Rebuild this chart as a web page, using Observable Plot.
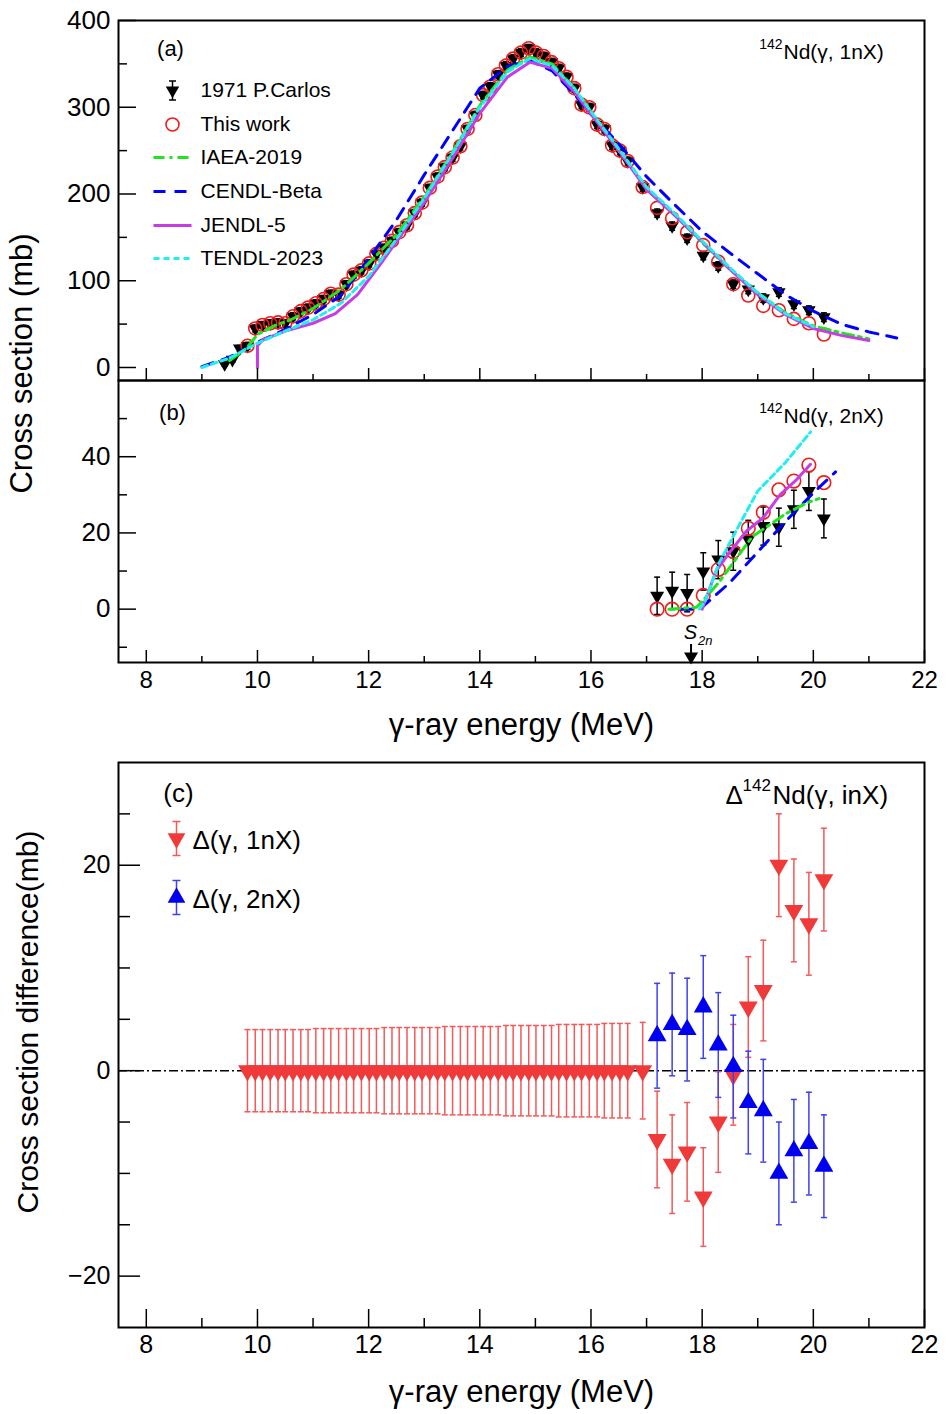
<!DOCTYPE html>
<html><head><meta charset="utf-8">
<script src="https://cdn.jsdelivr.net/npm/d3@7"></script>
<script src="https://cdn.jsdelivr.net/npm/@observablehq/plot@0.6"></script>
<style>
body{margin:0;background:#fff;}
#root{position:relative;width:950px;height:1414px;overflow:hidden;background:#fff;}
.panel{position:absolute;left:0;}
</style></head>
<body><div id="root"><div class="panel" id="pa" style="top:0"></div><div class="panel" id="pb" style="top:380px"></div><div class="panel" id="pc" style="top:740px"></div></div>
<script>
// ---------------- DATA ----------------
const xMajorTicks = [8, 10, 12, 14, 16, 18, 20, 22];
const xMinorTicks = [9, 11, 13, 15, 17, 19, 21];
const yMajorA = [0, 100, 200, 300, 400];
const yMinorA = [50, 150, 250, 350];
const yMajorB = [0, 20, 40];
const yMinorB = [-10, 10, 30, 50];
const yMajorC = [-20, 0, 20];
const yMinorC = [-15, -10, -5, 5, 10, 15, 25];

// (γ,1nX) energies (MeV)
const energy1nMain = [9.82, 9.96, 10.09, 10.23, 10.37, 10.50, 10.64, 10.78, 10.91, 11.05, 11.19, 11.32, 11.46, 11.60, 11.73, 11.87, 12.01, 12.14, 12.28, 12.42, 12.55, 12.69, 12.83, 12.96, 13.10, 13.24, 13.37, 13.51, 13.65, 13.78, 13.92, 14.06, 14.19, 14.33, 14.47, 14.60, 14.74, 14.88, 15.01, 15.15, 15.29, 15.42, 15.56, 15.70, 15.83, 15.97, 16.11, 16.24, 16.38, 16.52, 16.66, 16.93];
const energyHigh = [17.19, 17.46, 17.73, 18.02, 18.29, 18.56, 18.83, 19.10, 19.38, 19.65, 19.92, 20.19];
const thisWork1nMain = [25, 45, 49, 51, 52, 51, 59, 65, 69, 74, 79, 85, 84, 96, 107, 112, 120, 131, 138, 146, 156, 164, 178, 190, 207, 220, 231, 242, 255, 275, 291, 314, 324, 338, 348, 356, 363, 368, 363, 359, 352, 345, 335, 322, 303, 300, 280, 275, 256, 250, 238, 208];
const thisWork1nHigh = [184, 172, 156, 141, 122, 96, 83, 71, 66, 56, 51, 38];
const carlosLowEnergy = [9.41, 9.55, 9.68];
const carlosLow1n = [4, 9, 22];
const carlosLowErr = [2.5, 3, 3.5];
const carlos1nHigh = [178, 163, 149, 129, 117, 96, 90, 80, 87, 73, 66, 58];

// panel (c) differences
const delta1nMain = [0,0,0,0,0,0,0,0,0,0,0,0,0,0,0,0,0,0,0,0,0,0,0,0,0,0,0,0,0,0,0,0,0,0,0,0,0,0,0,0,0,0,0,0,0,0,0,0,0,0,0,0];
const delta1nErrMain = [4.0,4.0,4.0,4.0,4.0,4.0,4.0,4.0,4.0, 4.1,4.1,4.1,4.1,4.1,4.1,4.1,4.1,4.1, 4.2,4.2,4.2,4.2,4.2,4.2,4.2,4.2, 4.3,4.3,4.3,4.3,4.3,4.3,4.3,4.3, 4.4,4.4,4.4,4.4,4.4,4.4,4.4, 4.5,4.5,4.5,4.5,4.5,4.5, 4.6,4.6,4.6,4.6, 4.7];
const delta1nHigh = [-6.7, -9.1, -7.9, -12.3, -5.0, -0.4, 6.2, 7.8, 20.0, 15.6, 14.3, 18.6];
const delta1nErrHigh = [4.7, 4.8, 4.8, 4.8, 4.9, 4.9, 4.9, 4.9, 5.0, 5.0, 5.0, 5.0];
const delta2n = [3.4, 4.5, 4.0, 6.2, 2.5, 0.4, -3.1, -3.9, -10.0, -7.8, -7.1, -9.3];
const delta2nErr = [5.1, 5.0, 5.0, 5.0, 5.1, 5.0, 5.0, 5.0, 5.0, 5.0, 5.0, 5.0];

// panel (b) (γ,2nX)
const thisWork2n = [0, 0, 0, 3.6, 10.4, 15.1, 21.2, 25.4, 31.3, 33.6, 37.8, 33.2];
const carlos2n = [3.5, 4.8, 4.2, 9.9, 13.0, 15.2, 18.3, 21.8, 21.5, 26.2, 31.0, 23.8];
const carlos2nErr = [4.9, 4.9, 4.9, 4.9, 5.0, 5.0, 5.0, 5.0, 5.0, 5.0, 5.1, 5.1];
const s2nEnergy = 17.8;

// evaluated libraries (γ,1nX)
const iaea1nE = [9.5, 9.8, 10.0, 10.3, 10.6, 11.0, 11.5, 12.0, 12.5, 13.0, 13.5, 14.0, 14.5, 14.9, 15.3, 15.7, 16.0, 16.5, 17.0, 17.5, 18.0, 18.5, 19.0, 19.5, 20.0, 20.5, 21.0];
const iaea1nV = [8, 22, 38, 48, 55, 68, 90, 120, 153, 197, 247, 302, 343, 358, 350, 322, 295, 250, 207, 176, 144, 113, 86, 63, 48, 40, 33];
const cendl1nE = [9.0, 9.5, 10.0, 10.5, 11.0, 11.5, 12.0, 12.5, 13.0, 13.5, 14.0, 14.5, 14.9, 15.3, 15.7, 16.0, 16.5, 17.0, 17.5, 18.0, 18.5, 19.0, 19.5, 20.0, 20.5, 21.0, 21.5];
const cendl1nV = [1, 12, 29, 44, 61, 83, 125, 170, 222, 272, 322, 347, 354, 342, 315, 292, 258, 220, 188, 157, 132, 108, 84, 65, 50, 41, 34];
const jendl1nE = [10.0, 10.0, 10.1, 10.5, 11.0, 11.4, 11.8, 12.2, 12.5, 13.0, 13.5, 14.0, 14.5, 14.9, 15.3, 15.7, 16.0, 16.5, 17.0, 17.5, 18.0, 18.5, 19.0, 19.5, 20.0, 20.5, 21.0];
const jendl1nV = [0, 25, 32, 42, 51, 62, 84, 118, 145, 190, 240, 293, 335, 352, 345, 318, 292, 250, 205, 176, 145, 113, 84, 61, 45, 37, 31];
const tendl1nE = [9.0, 9.5, 10.0, 10.5, 11.0, 11.5, 12.0, 12.5, 13.0, 13.5, 14.0, 14.5, 14.9, 15.3, 15.7, 16.0, 16.5, 17.0, 17.5, 18.0, 18.5, 19.0, 19.5, 20.0];
const tendl1nV = [0, 11, 28, 42, 55, 74, 105, 148, 195, 246, 300, 341, 356, 348, 322, 295, 252, 208, 178, 146, 115, 86, 62, 47];

// evaluated libraries (γ,2nX)
const iaea2nE = [17.4, 17.9, 18.0, 18.3, 18.6, 18.9, 19.2, 19.5, 19.9, 20.1];
const iaea2nV = [0, 0.5, 2, 7, 13, 19, 22, 25, 28, 29];
const cendl2nE = [17.6, 17.95, 18.0, 18.5, 19.0, 19.5, 20.0, 20.4];
const cendl2nV = [0, 0, 0.5, 7, 15, 23, 30.5, 36];
const jendl2nE = [18.0, 18.25, 18.5, 18.8, 19.1, 19.4, 19.7, 19.95];
const jendl2nV = [0, 10, 15, 20.5, 24, 30, 34, 38];
const tendl2nE = [17.95, 18.05, 18.3, 18.7, 19.0, 19.5, 19.95];
const tendl2nV = [0, 2, 12, 23, 31, 38.5, 46.5];

const legendLabelsA = ["1971 P.Carlos", "This work", "IAEA-2019", "CENDL-Beta", "JENDL-5", "TENDL-2023"];
const legendLabelsC = ["\u0394(\u03b3, 1nX)", "\u0394(\u03b3, 2nX)"];

// ---------------- BUILD ----------------
const FONT = '"Liberation Sans", Arial, Helvetica, sans-serif';
const zip = (E, V, Er) => E.map((e, i) => ({e, v: V[i], err: Er ? Er[i] : 0}));
const carlos1nMain = thisWork1nMain.map((v, i) => v + delta1nMain[i]);
const carlosRows = [
  ...zip(carlosLowEnergy, carlosLow1n, carlosLowErr),
  ...zip(energy1nMain, carlos1nMain, delta1nErrMain),
  ...zip(energyHigh, carlos1nHigh, delta1nErrHigh)
];
const thisRows = [...zip(energy1nMain, thisWork1nMain), ...zip(energyHigh, thisWork1nHigh)];
const delta1nRows = [...zip(energy1nMain, delta1nMain, delta1nErrMain), ...zip(energyHigh, delta1nHigh, delta1nErrHigh)];
const delta2nRows = zip(energyHigh, delta2n, delta2nErr);
const this2nRows = zip(energyHigh, thisWork2n);
const carlos2nRows = zip(energyHigh, carlos2n, carlos2nErr);

const C = {
  red: "#ee1c1c", iaea: "#1fe41f", cendl: "#0000ff", jendl: "#c83ce6", tendl: "#22eef0",
  dRed: "#f03a3a", dRedBar: "#f05a5a", dBlue: "#0000f0", dBlueBar: "#4040f0"
};
const LS = {
  iaea: {stroke: C.iaea, strokeWidth: 3, strokeDasharray: "11,5,3,5"},
  cendl: {stroke: C.cendl, strokeWidth: 3, strokeDasharray: "12,9"},
  jendl: {stroke: C.jendl, strokeWidth: 3},
  tendl: {stroke: C.tendl, strokeWidth: 3, strokeDasharray: "6,4"}
};
const hSym = (h) => ({draw(ctx) { ctx.moveTo(-h, 0); ctx.lineTo(h, 0); }});
const barSym = (h, c) => ({draw(ctx) { ctx.moveTo(0, -h); ctx.lineTo(0, h); ctx.moveTo(-c, -h); ctx.lineTo(c, -h); ctx.moveTo(-c, h); ctx.lineTo(c, h); }});
// text helper: always centred vertically, explicit horizontal anchor
const T = (s, o) => Plot.text([s], {lineAnchor: "middle", textAnchor: "middle", fill: "black", ...o});

function errorBars(rows, color, w, cap) {
  return [
    Plot.ruleX(rows, {x: "e", y1: d => d.v - d.err, y2: d => d.v + d.err, stroke: color, strokeWidth: w}),
    Plot.dot(rows, {x: "e", y: d => d.v + d.err, symbol: hSym(cap), stroke: color, strokeWidth: w, fill: "none"}),
    Plot.dot(rows, {x: "e", y: d => d.v - d.err, symbol: hSym(cap), stroke: color, strokeWidth: w, fill: "none"})
  ];
}
const W = 950, ML = 118, MR = 26, PW = W - ML - MR;
const fmt = d => d < 0 ? "\u2212" + Math.abs(d) : String(d);
function frameTicks(plotH, yMaj, yMin, yLen, xLen, yFont, xLabels, xFont) {
  const m = [
    Plot.tickY(yMaj, {y: d => d, insetRight: PW - yLen[0], stroke: "black", strokeWidth: 1.5}),
    Plot.tickY(yMin, {y: d => d, insetRight: PW - yLen[1], stroke: "black", strokeWidth: 1.5}),
    Plot.tickX(xMajorTicks, {x: d => d, insetTop: plotH - xLen[0], stroke: "black", strokeWidth: 1.5}),
    Plot.tickX(xMinorTicks, {x: d => d, insetTop: plotH - xLen[1], stroke: "black", strokeWidth: 1.5}),
    Plot.axisY(yMaj, {tickSize: 0, tickPadding: 8, fontSize: yFont, label: null, tickFormat: fmt, fill: "black"}),
    Plot.frame({stroke: "black", strokeWidth: 2})
  ];
  if (xLabels) m.push(Plot.axisX(xMajorTicks, {tickSize: 0, tickPadding: 8, fontSize: xFont, label: null, tickFormat: fmt, fill: "black"}));
  return m;
}
const style = {overflow: "visible", background: "transparent", fontFamily: FONT, color: "black"};

// ---------- Panel (a) ----------
const rowsA = [90, 124, 157, 191, 225, 258].map(y => y - 20);
const legendA = [
  Plot.dot([0], {frameAnchor: "top-left", dx: 54, dy: rowsA[0], symbol: barSym(9.5, 3.5), stroke: "black", strokeWidth: 1.5, fill: "none"}),
  Plot.dot([0], {frameAnchor: "top-left", dx: 54, dy: rowsA[0], symbol: "triangle", rotate: 180, r: 5, fill: "black"}),
  Plot.dot([0], {frameAnchor: "top-left", dx: 54, dy: rowsA[1], r: 6.5, stroke: C.red, strokeWidth: 1.6, fill: "none"}),
  Plot.dot([0], {frameAnchor: "top-left", dx: 54, dy: rowsA[2], symbol: hSym(19), fill: "none", ...LS.iaea}),
  Plot.dot([0], {frameAnchor: "top-left", dx: 54, dy: rowsA[3], symbol: hSym(19), fill: "none", ...LS.cendl}),
  Plot.dot([0], {frameAnchor: "top-left", dx: 54, dy: rowsA[4], symbol: hSym(19), fill: "none", ...LS.jendl}),
  Plot.dot([0], {frameAnchor: "top-left", dx: 54, dy: rowsA[5], symbol: hSym(19), fill: "none", ...LS.tendl}),
  ...legendLabelsA.map((t, i) => T(t, {frameAnchor: "top-left", dx: 82, dy: rowsA[i], textAnchor: "start", fontSize: 21}))
];
const plotA = Plot.plot({
  width: W, height: 380, marginTop: 20, marginBottom: 0, marginLeft: ML, marginRight: MR,
  x: {domain: [7.5, 22], axis: null}, y: {domain: [-15, 400], axis: null}, style,
  marks: [
    ...errorBars(carlosRows, "black", 1.5, 3),
    Plot.dot(carlosRows, {x: "e", y: "v", symbol: "triangle", rotate: 180, r: 5, fill: "black"}),
    Plot.dot(thisRows, {x: "e", y: "v", r: 6.5, stroke: C.red, strokeWidth: 1.6, fill: "none"}),
    Plot.line(zip(cendl1nE, cendl1nV), {x: "e", y: "v", ...LS.cendl}),
    Plot.line(zip(iaea1nE, iaea1nV), {x: "e", y: "v", ...LS.iaea}),
    Plot.line(zip(jendl1nE, jendl1nV), {x: "e", y: "v", ...LS.jendl}),
    Plot.line(zip(tendl1nE, tendl1nV), {x: "e", y: "v", ...LS.tendl}),
    ...frameTicks(360, yMajorA, yMinorA, [18, 9], [12, 6], 26, false),
    T("(a)", {frameAnchor: "top-left", dx: 52, dy: 28, fontSize: 22}),
    T("142", {frameAnchor: "top-left", dx: 664, dy: 24, textAnchor: "end", fontSize: 14}),
    T("Nd(\u03b3, 1nX)", {frameAnchor: "top-left", dx: 665, dy: 32, textAnchor: "start", fontSize: 21}),
    T("Cross section (mb)", {frameAnchor: "bottom-left", dx: -96, dy: -17, rotate: -90, fontSize: 31}),
    ...legendA
  ]
});
document.getElementById("pa").append(plotA);

// ---------- Panel (b) ----------
const plotB = Plot.plot({
  width: W, height: 360, marginTop: 0, marginBottom: 78, marginLeft: ML, marginRight: MR,
  x: {domain: [7.5, 22], axis: null}, y: {domain: [-14, 60], axis: null}, style,
  marks: [
    ...errorBars(carlos2nRows, "black", 1.5, 3),
    Plot.dot(carlos2nRows, {x: "e", y: "v", symbol: "triangle", rotate: 180, r: 5.2, fill: "black"}),
    Plot.dot(this2nRows, {x: "e", y: "v", r: 6.8, stroke: C.red, strokeWidth: 1.6, fill: "none"}),
    Plot.line(zip(cendl2nE, cendl2nV), {x: "e", y: "v", ...LS.cendl}),
    Plot.line(zip(iaea2nE, iaea2nV), {x: "e", y: "v", ...LS.iaea}),
    Plot.line(zip(jendl2nE, jendl2nV), {x: "e", y: "v", ...LS.jendl}),
    Plot.line(zip(tendl2nE, tendl2nV), {x: "e", y: "v", ...LS.tendl}),
    ...frameTicks(282, yMajorB, yMinorB, [18, 9], [12, 6], 26, true, 24),
    Plot.tickX([s2nEnergy], {x: d => d, insetTop: 282 - 18, stroke: "black", strokeWidth: 2}),
    Plot.dot([s2nEnergy], {x: d => d, frameAnchor: "bottom", dy: -6, symbol: "triangle", rotate: 180, r: 5.2, fill: "black"}),
    T("S", {x: d => s2nEnergy, frameAnchor: "bottom", dx: 6, dy: -30, textAnchor: "end", fontSize: 20, fontStyle: "italic"}),
    T("2n", {x: d => s2nEnergy, frameAnchor: "bottom", dx: 7, dy: -22, textAnchor: "start", fontSize: 13, fontStyle: "italic"}),
    T("(b)", {frameAnchor: "top-left", dx: 54, dy: 32, fontSize: 22}),
    T("142", {frameAnchor: "top-left", dx: 664, dy: 28, textAnchor: "end", fontSize: 14}),
    T("Nd(\u03b3, 2nX)", {frameAnchor: "top-left", dx: 665, dy: 36, textAnchor: "start", fontSize: 21}),
    T("\u03b3-ray energy (MeV)", {frameAnchor: "bottom", dy: 63, fontSize: 31})
  ]
});
document.getElementById("pb").append(plotB);

// ---------- Panel (c) ----------
const rowsC = [838, 897].map(y => y - 762);
const plotC = Plot.plot({
  width: W, height: 674, marginTop: 22, marginBottom: 87, marginLeft: ML, marginRight: MR,
  x: {domain: [7.5, 22], axis: null}, y: {domain: [-25, 30], axis: null}, style,
  marks: [
    Plot.ruleY([0], {stroke: "black", strokeWidth: 1.5, strokeDasharray: "9,3,2,3"}),
    ...errorBars(delta1nRows, C.dRedBar, 1.5, 3),
    Plot.dot(delta1nRows, {x: "e", y: "v", symbol: "triangle", rotate: 180, r: 7, fill: C.dRed}),
    ...errorBars(delta2nRows, C.dBlueBar, 1.5, 3),
    Plot.dot(delta2nRows, {x: "e", y: "v", symbol: "triangle", r: 7, fill: C.dBlue}),
    ...frameTicks(565, yMajorC, yMinorC, [22, 12], [18, 9], 25, true, 25),
    Plot.dot([0], {frameAnchor: "top-left", dx: 58, dy: rowsC[0], symbol: barSym(17, 4), stroke: C.dRedBar, strokeWidth: 1.5, fill: "none"}),
    Plot.dot([0], {frameAnchor: "top-left", dx: 58, dy: rowsC[0], symbol: "triangle", rotate: 180, r: 6.6, fill: C.dRed}),
    Plot.dot([0], {frameAnchor: "top-left", dx: 58, dy: rowsC[1], symbol: barSym(17, 4), stroke: C.dBlueBar, strokeWidth: 1.5, fill: "none"}),
    Plot.dot([0], {frameAnchor: "top-left", dx: 58, dy: rowsC[1], symbol: "triangle", r: 6.6, fill: C.dBlue}),
    ...legendLabelsC.map((t, i) => T(t, {frameAnchor: "top-left", dx: 74, dy: rowsC[i] + 2, textAnchor: "start", fontSize: 26})),
    T("(c)", {frameAnchor: "top-left", dx: 60, dy: 31, fontSize: 26}),
    T("\u0394", {frameAnchor: "top-left", dx: 607, dy: 33, textAnchor: "start", fontSize: 26}),
    T("142", {frameAnchor: "top-left", dx: 624, dy: 23, textAnchor: "start", fontSize: 17}),
    T("Nd(\u03b3, inX)", {frameAnchor: "top-left", dx: 654, dy: 33, textAnchor: "start", fontSize: 26}),
    T("Cross section difference(mb)", {frameAnchor: "left", dx: -90, dy: -23, rotate: -90, fontSize: 30}),
    T("\u03b3-ray energy (MeV)", {frameAnchor: "bottom", dy: 65, fontSize: 31})
  ]
});
document.getElementById("pc").append(plotC);
</script></body></html>
